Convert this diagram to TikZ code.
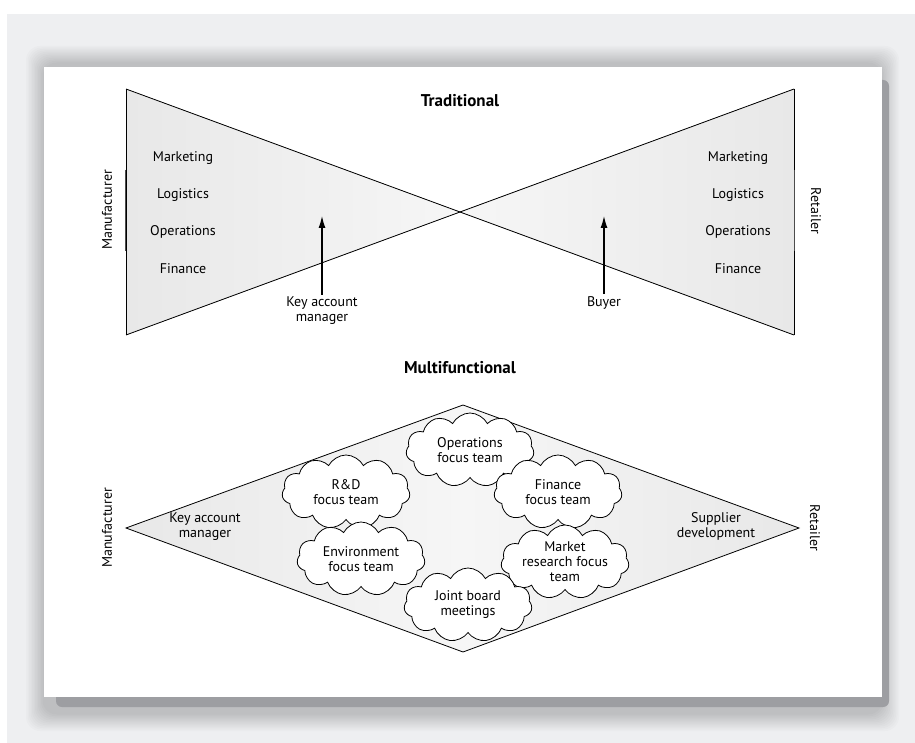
\documentclass[tikz,border=0pt]{standalone}
\usepackage{fontspec}
\setmainfont{PT Sans}
\usetikzlibrary{arrows.meta}
\usetikzlibrary{shapes.symbols}

\definecolor{pagegray}{RGB}{238,239,241}
\definecolor{shadegray}{RGB}{157,158,162}
\definecolor{fillgray}{RGB}{232,232,232}
\definecolor{lightfill}{RGB}{246,246,246}

\begin{document}
\begin{tikzpicture}[x=1pt,y=-1pt,line width=0.8pt,
    lbl/.style={font=\fontsize{14}{15}\selectfont,inner sep=0pt,align=center},
    ttl/.style={font=\fontsize{17}{19}\selectfont\bfseries,inner sep=0pt},
    team/.style={cloud,cloud puffs=11,cloud puff arc=125,cloud ignores aspect,draw,fill=white,
        minimum width=128pt,minimum height=74pt,inner sep=-4pt,align=center,
        font=\fontsize{14}{15}\selectfont},
    arr/.style={-{Latex[length=12pt,width=7pt]},line width=1.2pt}]

    \useasboundingbox (0,0) rectangle (915,743);

    % page with a soft shadow under the white panel
    \fill[pagegray] (7,14) rectangle (915,743);
    \foreach \s in {0,...,11}
        \fill[black,opacity=0.015,rounded corners=14pt] ({26+1.5*\s},{46+1.5*\s}) rectangle ({899-1.5*\s},{731-1.5*\s});
    \fill[shadegray,rounded corners=6pt] (56,80) rectangle (889,707);
    \fill[white] (44,67) rectangle (882,697);

    % traditional: bow tie
    \coordinate (lt) at (126,89);
    \coordinate (lb) at (126,335);
    \coordinate (rt) at (794,89);
    \coordinate (rb) at (794,335);
    \coordinate (cross) at (460,212);
    \fill[left color=fillgray,right color=lightfill] (lt) -- (cross) -- (lb) -- cycle;
    \fill[left color=lightfill,right color=fillgray] (rt) -- (cross) -- (rb) -- cycle;
    \draw (lt) -- (rb);
    \draw (lb) -- (rt);
    \draw (lt) -- (lb);
    \draw (rt) -- (rb);
    \draw[black!70,line width=1.5pt] (125.5,170) -- (125.5,251);
    \draw[black!70,line width=1.5pt] (794.5,170) -- (794.5,251);

    \node[ttl] (trad) at (460,101) {Traditional};

    % functions on both sides
    \foreach \t [count=\i] in {Marketing,Logistics,Operations,Finance} {
        \node[lbl] (mfr\i) at (183,{121+37*\i}) {\t};
        \node[lbl] (ret\i) at (738,{121+37*\i}) {\t};
    }
    \node[lbl,rotate=90] (mfr) at (107,210) {Manufacturer};
    \node[lbl,rotate=-90] (ret) at (816,211) {Retailer};

    % single contacts
    \node[lbl] (kam) at (322,311) {Key account\\manager};
    \node[lbl] (buyer) at (604,303) {Buyer};
    \coordinate (kamtip) at (322,216);
    \coordinate (buyertip) at (604,216);
    \draw[arr,shorten <=2pt] (kam.north) -- (kamtip);
    \draw[arr,shorten <=2pt] (buyer.north) -- (buyertip);

    % multifunctional: diamond
    \node[ttl] (multi) at (460,368) {Multifunctional};
    \coordinate (dl) at (126,528);
    \coordinate (dt) at (463,405);
    \coordinate (dr) at (799,528);
    \coordinate (db) at (463,652);
    \draw[left color=fillgray,right color=fillgray,middle color=lightfill] (dl) -- (dt) -- (dr) -- (db) -- cycle;

    \node[lbl,rotate=90] (mfrb) at (107,528) {Manufacturer};
    \node[lbl,rotate=-90] (retb) at (815,528) {Retailer};
    \node[lbl] (kamb) at (205,527) {Key account\\manager};
    \node[lbl] (supdev) at (716,526) {Supplier\\development};

    % focus teams
    \node[team] (ops) at (470,450) {Operations\\focus team};
    \node[team] (rnd) at (346,492) {R\&D\\focus team};
    \node[team] (fin) at (558,492) {Finance\\focus team};
    \node[team] (env) at (361,559) {Environment\\focus team};
    \node[team] (mkt) at (565,562) {Market\\research focus\\team};
    \node[team] (jbm) at (468,605) {Joint board\\meetings};
\end{tikzpicture}
\end{document}
